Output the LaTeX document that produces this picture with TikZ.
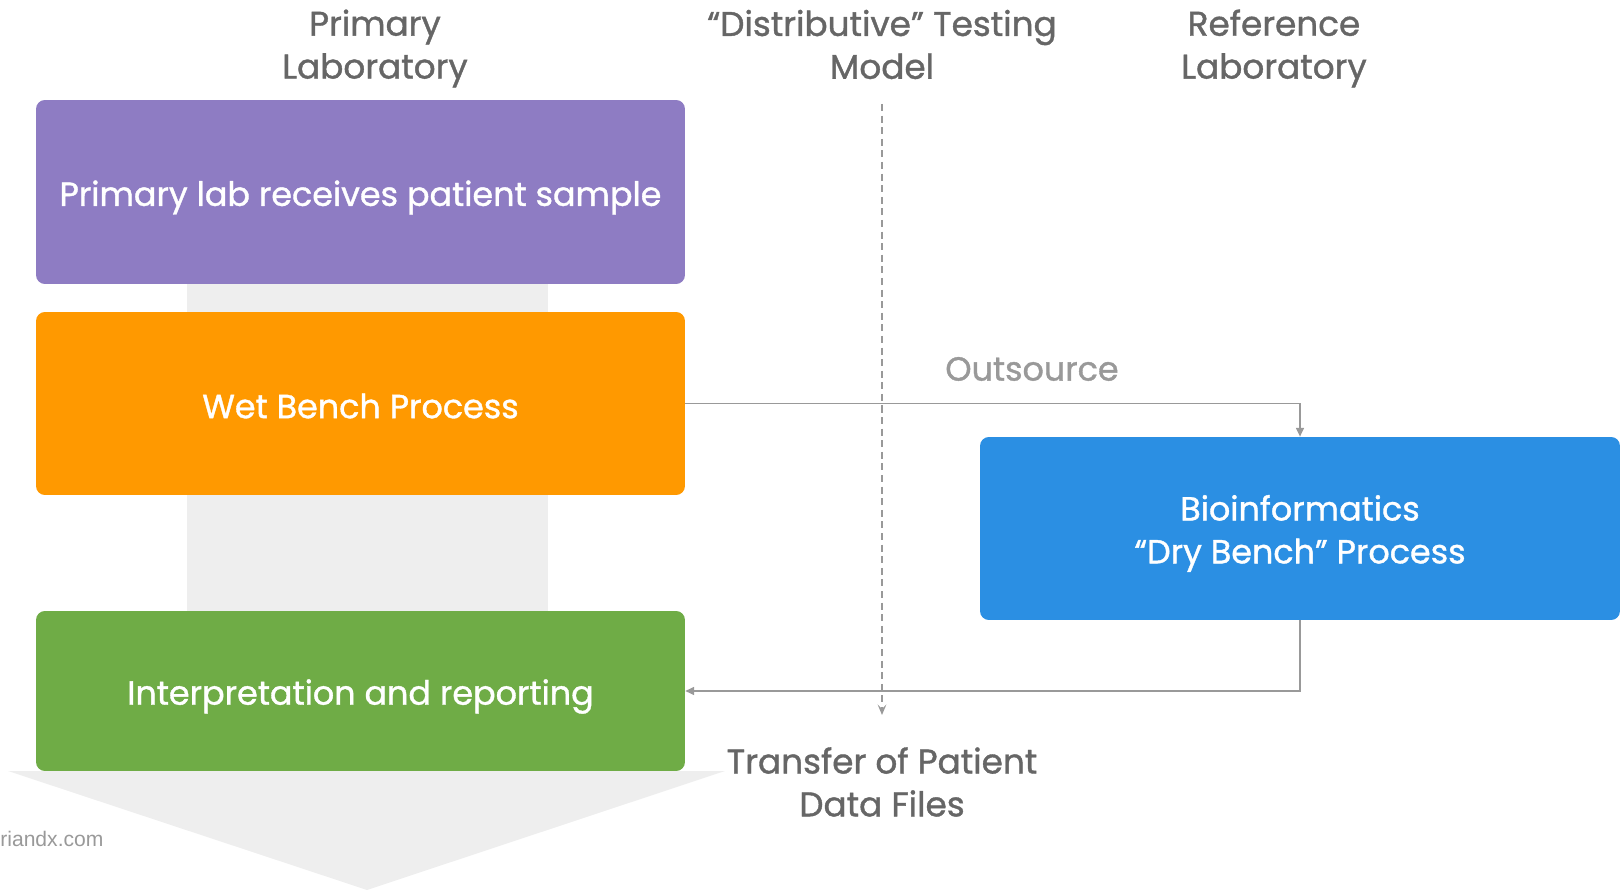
\documentclass[tikz,border=0pt]{standalone}
\usepackage{fontspec}
\setmainfont{Poppins}[FakeBold=1.1]
\newfontfamily\wmfont{Liberation Sans}
\usetikzlibrary{arrows.meta}
\definecolor{hdrgray}{HTML}{666666}
\definecolor{lightgray}{HTML}{999999}
\definecolor{flowgray}{HTML}{EEEEEE}
\definecolor{cpurple}{HTML}{8E7CC3}
\definecolor{corange}{HTML}{FF9900}
\definecolor{cgreen}{HTML}{6FAC46}
\definecolor{cblue}{HTML}{2B8FE3}
\begin{document}
\begin{tikzpicture}[x=0.02cm,y=-0.02cm,
  stage/.style={rounded corners=5pt, inner sep=0pt, minimum width=12.98cm},
  stagetext/.style={text=white, align=center, inner sep=0pt,
    font=\fontsize{19}{24.4}\selectfont},
  header/.style={text=hdrgray, align=center, inner sep=0pt,
    font=\fontsize{19.5}{24.4}\selectfont},
  link/.style={draw=lightgray, line width=0.9pt, -{Triangle[length=5pt,width=4.5pt]}},
  divider/.style={draw=lightgray, line width=0.9pt, dash pattern=on 4pt off 2.6pt,
    -{Stealth[length=6pt,width=5pt,inset=2.5pt]}}
]
\useasboundingbox (0,0) rectangle (1623,891);

% grey flow band behind the primary-lab stages
\fill[flowgray] (187,200) rectangle (548,771);
\fill[flowgray] (8,771) -- (725,771) -- (367,890) -- cycle;

% process stages
\node[stage, fill=cpurple, minimum height=3.68cm] (recv) at (360.5,192) {};
\node[stage, fill=corange, minimum height=3.66cm] (wet) at (360.5,403.5) {};
\node[stage, fill=cgreen, minimum height=3.2cm] (interp) at (360.5,691) {};
\node[stage, fill=cblue, minimum width=12.8cm, minimum height=3.66cm] (bio) at (1300,528.5) {};

\node[stagetext] (recvtext) at ([yshift=-0.11cm]recv.center) {Primary lab receives patient sample};
\node[stagetext] (wettext) at ([yshift=-0.05cm]wet.center) {Wet Bench Process};
\node[stagetext] (interptext) at ([yshift=-0.11cm]interp.center) {Interpretation and reporting};
\node[stagetext] (biotext) at ([yshift=-0.1cm]bio.center) {Bioinformatics\\“Dry Bench” Process};

% dividing line between the two laboratories
\coordinate (divtop) at (882,104);
\coordinate (divbot) at (882,715);
\draw[divider] (divtop) -- (divbot);

% data exchange
\draw[link] (wet.east) -| (bio.north);
\draw[link] (bio.south) |- (interp.east);

% column headings
\node[header] (hprim) at (375,48.5) {Primary\\Laboratory};
\node[header] (hmodel) at (882,44.5) {“Distributive” Testing\\Model};
\node[header] (href) at (1274,48.5) {Reference\\Laboratory};

% connector labels
\node[text=lightgray, inner sep=0pt, font=\fontsize{19}{24}\selectfont] (lout) at (1032,369) {Outsource};
\node[header] (ltrans) at (882,782) {Transfer of Patient\\Data Files};

% site credit
\node[anchor=west, inner sep=0pt, text=lightgray, font=\wmfont\fontsize{12}{14}\selectfont] (credit) at (0,839) {riandx.com};
\end{tikzpicture}
\end{document}
